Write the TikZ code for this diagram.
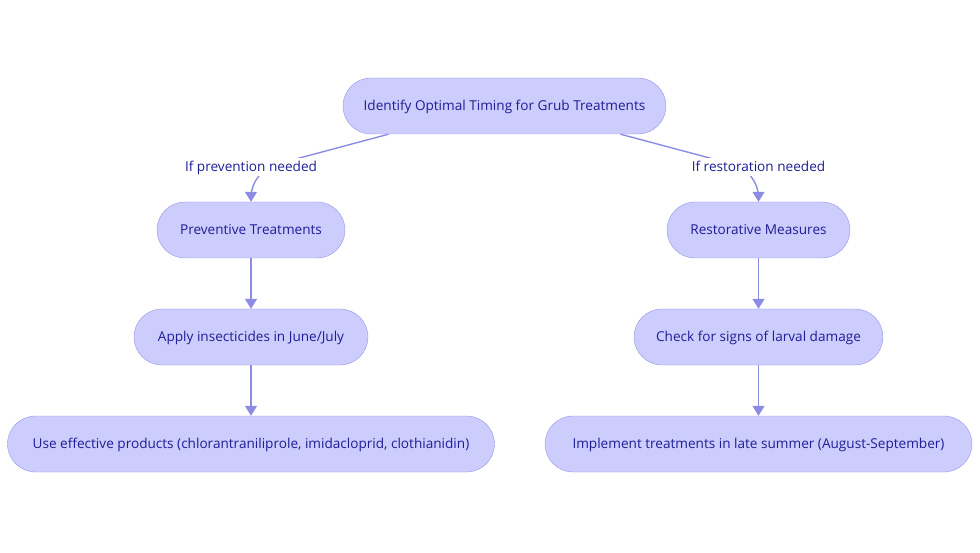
\documentclass[tikz,border=0pt]{standalone}
\usepackage{fontspec}
\setmainfont{Open Sans}
\usetikzlibrary{arrows.meta}
\definecolor{boxfill}{RGB}{204,204,253}
\definecolor{boxline}{RGB}{150,150,232}
\definecolor{edgeline}{RGB}{140,140,228}
\definecolor{boxtext}{RGB}{30,30,150}
\tikzset{
  box/.style={draw=boxline, fill=boxfill, rounded corners=28pt, minimum height=56pt,
    minimum width=#1, inner sep=0pt, text height=12.8pt, text depth=3pt, text=boxtext,
    font=\fontsize{13.6}{16}\selectfont},
  edge/.style={draw=edgeline, line width=1.4pt, -{Triangle[length=10pt,width=12pt]}},
  lbl/.style={fill=white, text=boxtext, inner sep=1pt, text height=12.8pt, text depth=3pt,
    font=\fontsize{13.6}{16}\selectfont}
}
\begin{document}
\begin{tikzpicture}[x=1pt,y=-1pt]
\useasboundingbox (0,0) rectangle (980,553);
% nodes
\node[box=323pt] (goal) at (504.5,106) {Identify Optimal Timing for Grub Treatments};
\node[box=188pt] (prev) at (251,230) {Preventive Treatments};
\node[box=234pt] (apply) at (251,337) {Apply insecticides in June/July};
\node[box=487pt] (prod) at (251,444) {Use effective products (chlorantraniliprole, imidacloprid, clothianidin)};
\node[box=183pt] (rest) at (758.5,230) {Restorative Measures};
\node[box=249pt] (check) at (758.5,337) {Check for signs of larval damage};
\node[box=427pt] (late) at (758.5,444) {Implement treatments in late summer (August-September)};
% branches
\coordinate (pbend) at (251,171);
\coordinate (rbend) at (758.5,171);
\draw[edge, rounded corners=26pt] ([xshift=-116pt]goal.south) -- (pbend) -- (prev.north);
\draw[edge, rounded corners=26pt] ([xshift=116pt]goal.south) -- (rbend) -- (rest.north);
\node[lbl] (plbl) at (251,167) {If prevention needed};
\node[lbl] (rlbl) at (758.5,167) {If restoration needed};
% chains
\draw[edge] (prev) -- (apply);
\draw[edge] (apply) -- (prod);
\draw[edge] (rest) -- (check);
\draw[edge] (check) -- (late);
\end{tikzpicture}
\end{document}
